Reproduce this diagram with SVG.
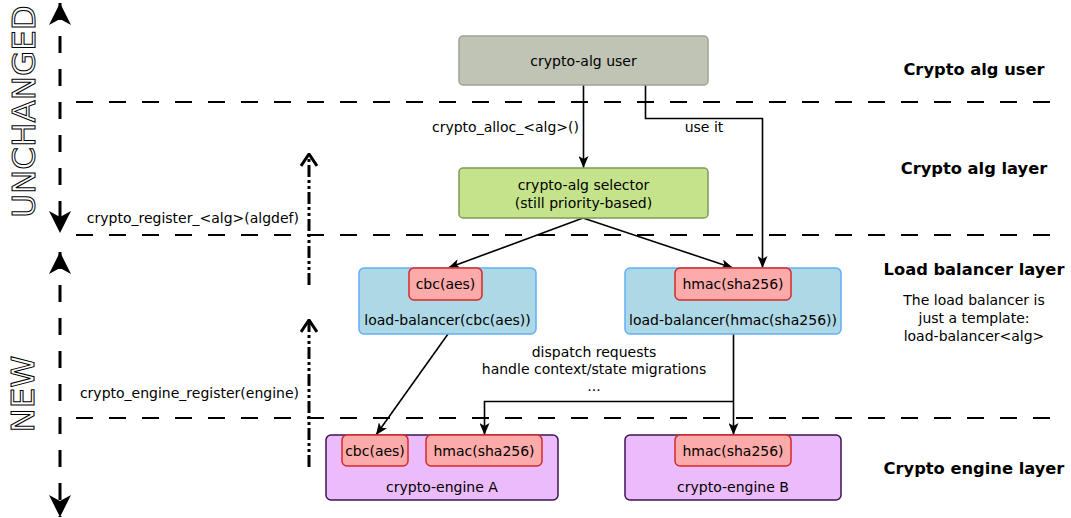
<svg xmlns="http://www.w3.org/2000/svg" width="1071" height="518" viewBox="0 0 1071 518">
<defs>
<style>
text{font-family:"DejaVu Sans","Liberation Sans",sans-serif;font-size:14px;fill:#000}
.b{font-weight:bold;font-size:16.3px}
.m{text-anchor:middle}
.e{text-anchor:end}
.big{font-size:32.5px;fill:#fff;stroke:#000;stroke-width:1}
.sep{stroke:#000;stroke-width:2;stroke-dasharray:17,16;fill:none}
.vd{stroke:#000;stroke-width:3;stroke-dasharray:17,16;fill:none}
.dd{stroke:#000;stroke-width:3;stroke-dasharray:12,3,3,3,3,3;fill:none}
.c{stroke:#000;stroke-width:1.6;fill:none}
.user{fill:#bfc4b4;stroke:#9fa394;stroke-width:1.5}
.sel{fill:#c5e38a;stroke:#7d9b5a;stroke-width:1.5}
.lb{fill:#add8e6;stroke:#62aef7;stroke-width:1.5}
.alg{fill:#fcaaaa;stroke:#d42a2a;stroke-width:1.5}
.eng{fill:#ecbbfc;stroke:#3c1452;stroke-width:1.5}
</style>
<marker id="a" viewBox="0 0 12 10" refX="12" refY="5" markerWidth="12" markerHeight="10" markerUnits="userSpaceOnUse" orient="auto">
<path d="M0,0 L12,5 L0,10 L3,5 Z" fill="#000"/>
</marker>
<marker id="big" viewBox="0 0 22 22" refX="22" refY="11" markerWidth="22" markerHeight="22" markerUnits="userSpaceOnUse" orient="auto-start-reverse">
<path d="M0,0 L22,11 L0,22 L6,11 Z" fill="#000"/>
</marker>
<marker id="open" viewBox="0 0 14 18" refX="13" refY="9" markerWidth="14" markerHeight="18" markerUnits="userSpaceOnUse" orient="auto">
<path d="M1,1 L13,9 L1,17" fill="none" stroke="#000" stroke-width="3"/>
</marker>
</defs>

<g id="separators">
<line class="sep" x1="76" y1="102" x2="1060" y2="102"/>
<line class="sep" x1="76" y1="235" x2="1060" y2="235"/>
<line class="sep" x1="76" y1="418" x2="1060" y2="418"/>
</g>

<g id="side">
<line class="vd" x1="60" y1="3" x2="60" y2="233" marker-start="url(#big)" marker-end="url(#big)"/>
<line class="vd" x1="60" y1="252" x2="60" y2="517" marker-start="url(#big)" marker-end="url(#big)"/>
<text class="big m" transform="translate(34.5,111.5) rotate(-90)">UNCHANGED</text>
<text class="big m" transform="translate(33.5,394) rotate(-90)">NEW</text>
<line class="dd" x1="309" y1="285" x2="309" y2="154" marker-end="url(#open)"/>
<line class="dd" x1="309" y1="467" x2="309" y2="320" marker-end="url(#open)"/>
<text class="e" x="299" y="223">crypto_register_&lt;alg&gt;(algdef)</text>
<text class="e" x="299" y="398">crypto_engine_register(engine)</text>
</g>

<g id="layers">
<text class="b m" x="974" y="75">Crypto alg user</text>
<text class="b m" x="974" y="174">Crypto alg layer</text>
<text class="b m" x="974" y="275">Load balancer layer</text>
<text class="m" x="974" y="305">The load balancer is</text>
<text class="m" x="974" y="323">just a template:</text>
<text class="m" x="974" y="341">load-balancer&lt;alg&gt;</text>
<text class="b m" x="974" y="474">Crypto engine layer</text>
</g>

<g id="connectors">
<line class="c" x1="583.5" y1="85" x2="583.5" y2="168" marker-end="url(#a)"/>
<polyline class="c" points="645.5,85 645.5,118.5 762.5,118.5 762.5,268" marker-end="url(#a)"/>
<line class="c" x1="583" y1="218" x2="448" y2="268" marker-end="url(#a)"/>
<line class="c" x1="583" y1="218" x2="733" y2="268" marker-end="url(#a)"/>
<line class="c" x1="448" y1="334" x2="376" y2="435" marker-end="url(#a)"/>
<line class="c" x1="733.5" y1="334" x2="733.5" y2="435" marker-end="url(#a)"/>
<polyline class="c" points="733.5,401.5 484.5,401.5 484.5,435" marker-end="url(#a)"/>
<text class="e" x="579" y="132">crypto_alloc_&lt;alg&gt;()</text>
<text class="m" x="704" y="132">use it</text>
<text class="m" x="594" y="357">dispatch requests</text>
<text class="m" x="594" y="374">handle context/state migrations</text>
<text class="m" x="594" y="391">...</text>
</g>

<g id="user">
<rect class="user" x="459" y="36" width="249" height="49" rx="4"/>
<text class="m" x="583.5" y="66">crypto-alg user</text>
</g>

<g id="selector">
<rect class="sel" x="459" y="168" width="249" height="50" rx="4"/>
<text class="m" x="583.5" y="190">crypto-alg selector</text>
<text class="m" x="583.5" y="208">(still priority-based)</text>
</g>

<g id="lb-cbc">
<rect class="lb" x="359" y="268" width="177" height="66" rx="5"/>
<rect class="alg" x="409" y="268" width="73" height="32" rx="5"/>
<text class="m" x="445.5" y="289">cbc(aes)</text>
<text class="m" x="447.5" y="325">load-balancer(cbc(aes))</text>
</g>

<g id="lb-hmac">
<rect class="lb" x="625" y="268" width="216" height="66" rx="5"/>
<rect class="alg" x="675" y="268" width="116" height="32" rx="5"/>
<text class="m" x="733" y="289">hmac(sha256)</text>
<text class="m" x="733" y="325">load-balancer(hmac(sha256))</text>
</g>

<g id="engine-a">
<rect class="eng" x="326" y="435" width="232" height="65" rx="5"/>
<rect class="alg" x="342" y="435" width="66" height="31" rx="5"/>
<rect class="alg" x="426" y="435" width="116" height="31" rx="5"/>
<text class="m" x="375" y="456">cbc(aes)</text>
<text class="m" x="484" y="456">hmac(sha256)</text>
<text class="m" x="442" y="492">crypto-engine A</text>
</g>

<g id="engine-b">
<rect class="eng" x="625" y="435" width="216" height="65" rx="5"/>
<rect class="alg" x="675" y="435" width="116" height="31" rx="5"/>
<text class="m" x="733" y="456">hmac(sha256)</text>
<text class="m" x="733" y="492">crypto-engine B</text>
</g>
</svg>
